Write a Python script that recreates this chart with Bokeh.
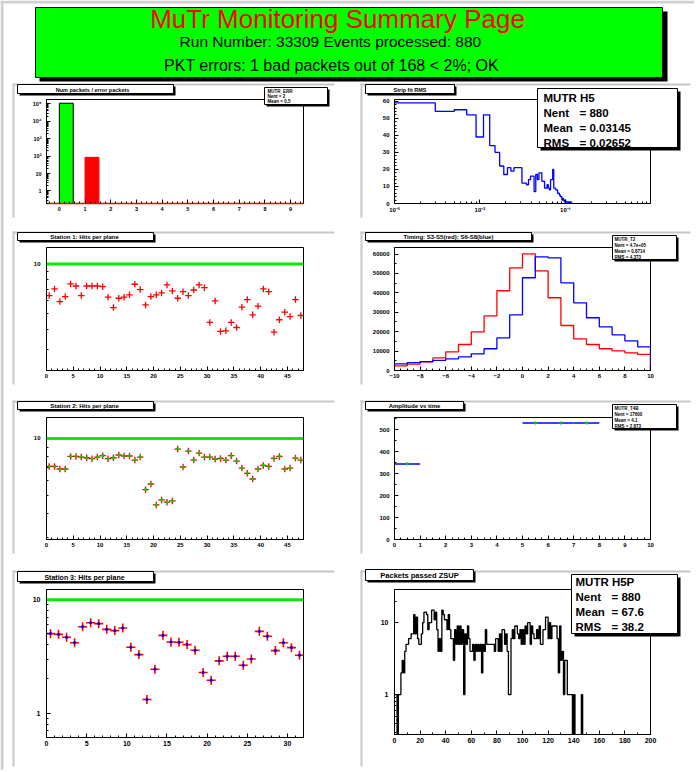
import numpy as np
from bokeh.plotting import figure
from bokeh.models import Range1d, FixedTicker, Span, GridBox
from bokeh.layouts import column, row
from bokeh.embed import file_html
from bokeh.resources import INLINE
from bokeh.core.properties import value

# ---------------- data ----------------
RUN_NUMBER = 33309
EVENTS_PROCESSED = 880
BAD_PACKETS = 1
TOTAL_PACKETS = 168
ERROR_LIMIT = "2%"

# pad 1 : packets / error packets
PKT_CATEGORY = [0, 1]
PKT_COUNT = [110000, 85]
PKT_COLOR = ["#00ff00", "#ff0000"]

# pad 2 : MUTR H5 (bins of width 0.002 starting at 0.001)
H5_FIRST_EDGE = 0.001
H5_BIN_WIDTH = 0.002
H5_COUNTS = [59, 54, 55, 52, 39, 52, 34, 30, 22, 17, 21, 19, 21, 21, 21, 12, 12, 11, 14, 16,
             16, 7, 17, 14, 18, 18, 13, 13, 9, 9, 11, 9, 8, 14, 14, 20, 9, 9, 8, 8,
             6, 6, 5, 4, 4, 2, 3, 2, 1, 2, 1, 1, 0, 1, 0, 1, 0, 1, 0, 0]
H5_MEAN = "0.03145"
H5_RMS = "0.02652"

# pad 4 : timing
TIMING_FIRST_EDGE = -10
TIMING_BIN_WIDTH = 1
TIMING_RED = [2400, 3300, 4500, 6500, 9600, 13400, 19900, 28200, 41100, 52900,
              60100, 51400, 37500, 23200, 16300, 13400, 11200, 10100, 9100, 8300]
TIMING_BLUE = [3400, 4100, 4600, 5200, 6000, 7000, 8600, 11200, 16800, 28700,
               47800, 58600, 58100, 45200, 34900, 27200, 22500, 18400, 15300, 12200]

# station hits per plane
HITS_REFERENCE = 10
ST1_HITS = [6.43, 7.05, 5.91, 6.34, 7.56, 7.35, 6.43, 7.35, 7.35, 7.35, 7.28, 6.28,
            5.43, 6.19, 6.28, 6.49, 7.53, 6.99, 5.64, 6.34, 6.49, 6.67, 7.46, 6.86,
            6.19, 6.79, 6.43, 6.95, 7.46, 7.18, 4.41, 5.96, 3.89, 3.92, 4.41, 4.11,
            5.46, 6.08, 4.91, 5.54, 7.05, 6.79, 3.85, 4.58, 5.09, 4.79, 6.08, 4.86]
ST2_HITS = [7.12, 7.12, 6.90, 6.90, 8.04, 8.04, 7.98, 7.91, 7.82, 7.98, 8.11, 7.82,
            7.91, 8.18, 8.08, 8.08, 7.69, 7.98, 5.37, 5.75, 4.46, 4.74, 4.61, 4.68,
            8.79, 7.07, 8.58, 7.69, 8.37, 7.98, 7.98, 7.79, 7.85, 7.69, 8.11, 7.60,
            6.98, 6.55, 6.11, 6.90, 7.21, 7.12, 7.85, 8.04, 6.90, 6.98, 7.88, 7.69]
ST3_HITS = [5.02, 4.95, 4.66, 4.18, 5.78, 6.27, 6.15, 5.48, 5.34, 5.63, 3.81, 3.28,
            1.32, 2.44, 4.85, 4.24, 4.21, 4.02, 3.58, 2.28, 1.95, 2.89, 3.17, 3.17,
            2.64, 3.00, 5.26, 4.76, 3.56, 4.18, 3.78, 3.24]

# pad 6 : amplitude vs time (bin low edge, mean value)
AMP_BIN = [0, 5, 6, 7]
AMP_VALUE = [344, 530, 530, 530]

# pad 8 : packets passed ZSUP (bins of width 1 from 0)
ZSUP_COUNTS = [1, 1, 0, 1, 1, 2, 3, 2, 4, 5, 5, 6, 6, 7, 7, 13, 7, 12, 6, 5,
               5, 7, 10, 14, 14, 13, 8, 10, 10, 15, 15, 11, 14, 8, 4, 6, 4, 15, 13, 11,
               11, 8, 13, 8, 6, 6, 3, 8, 5, 9, 5, 9, 5, 8, 1, 7, 5, 9, 6, 4,
               4, 5, 3, 5, 4, 5, 4, 5, 2, 5, 4, 8, 5, 5, 5, 5, 5, 5, 4, 6,
               6, 4, 7, 4, 8, 8, 5, 7, 4, 1, 1, 6, 8, 6, 9, 9, 7, 6, 8, 5,
               8, 5, 9, 7, 10, 10, 5, 9, 7, 6, 6, 8, 6, 9, 5, 5, 8, 8, 12, 12,
               6, 10, 6, 9, 9, 9, 9, 6, 2, 9, 3, 4, 1, 3, 3, 1, 1, 1, 1, 0,
               1, 0, 0, 0, 0, 0, 1, 0, 0, 0]
ZSUP_MEAN = "67.6"
ZSUP_RMS = "38.2"

# ---------------- helpers ----------------
FONT = "Liberation Sans"
PAGE_W, PAGE_H = 694, 770


def make_pad(fig_x, fig_y, fig_w, fig_h, frame, x_range, y_range, x_type="linear", y_type="linear"):
    fx0, fy0, fx1, fy1 = frame
    p = figure(frame_width=fx1 - fx0, frame_height=fy1 - fy0,
               min_border_left=fx0 - fig_x, min_border_right=fig_x + fig_w - fx1,
               min_border_top=fy0 - fig_y, min_border_bottom=fig_y + fig_h - fy1,
               x_range=x_range, y_range=y_range,
               x_axis_type=x_type, y_axis_type=y_type,
               toolbar_location=None, output_backend="svg", title=None)
    p.xgrid.visible = False
    p.ygrid.visible = False
    p.outline_line_color = "black"
    p.outline_line_alpha = 1.0
    p.outline_line_width = 1
    p.background_fill_color = "white"
    p.border_fill_color = "white"
    return p


def style_axis(ax, ticks, minor, size="6px", standoff=4, labels=None):
    ax.ticker = FixedTicker(ticks=ticks, minor_ticks=minor)
    ax.axis_line_color = "black"
    ax.major_tick_in = 4
    ax.major_tick_out = 0
    ax.minor_tick_in = 2
    ax.minor_tick_out = 0
    ax.major_tick_line_color = "black"
    ax.minor_tick_line_color = "black"
    ax.major_label_text_font = FONT
    ax.major_label_text_font_style = "bold"
    ax.major_label_text_font_size = size
    ax.major_label_text_color = "black"
    ax.major_label_standoff = standoff
    if labels:
        ax.major_label_overrides = labels


def log_minor(decades, mults=range(2, 10)):
    return [m * 10.0 ** d for d in decades for m in mults]


def stairs(first_edge, width, counts, floor=None, drop=True):
    c = np.asarray(counts, dtype=float)
    edges = first_edge + width * np.arange(len(c) + 1)
    xs = list(np.repeat(edges, 2)[1:-1])
    ys = list(np.repeat(c, 2))
    if drop:
        xs.append(edges[-1])
        ys.append(0.0)
    ys = np.asarray(ys)
    if floor is not None:
        ys = np.maximum(ys, floor)
    return xs, list(ys)


# overlay figure for the canvas decorations (banner, title boxes, statistics boxes, pad borders)
overlay = figure(width=PAGE_W, height=PAGE_H, x_range=Range1d(0, PAGE_W), y_range=Range1d(PAGE_H, 0),
                 toolbar_location=None, output_backend="svg", title=None,
                 x_axis_location=None, y_axis_location=None, min_border=0)
overlay.outline_line_color = None
overlay.background_fill_alpha = 0
overlay.border_fill_alpha = 0
overlay.grid.visible = False


def ov_box(x0, y0, x1, y1, fill, line=None, lw=1.0):
    overlay.quad(left=[x0], right=[x1], top=[y0], bottom=[y1],
                 fill_color=fill, line_color=line if line else fill,
                 line_alpha=1.0 if line else 0.0, line_width=lw)


def ov_text(x, y, txt, size, align="left", bold=True, color="black"):
    overlay.text(x=[x], y=[y], text=[txt], text_font=value(FONT),
                 text_font_size=value(size), text_font_style="bold" if bold else "normal",
                 text_align=align, text_baseline="middle", text_color=color)


def ov_border(x0, y0, x1, y1):
    ov_box(x0, y0, x1, y0 + 2, "#c8c8c8")
    ov_box(x0, y0, x0 + 2, y1, "#c8c8c8")


def ov_title(x0, y0, x1, y1, txt, size, cx=None):
    ov_box(x0 + 2, y0 + 2, x1 + 2, y1 + 2, "black")
    ov_box(x0, y0, x1, y1, "white", "black")
    ov_text(cx if cx else (x0 + x1) / 2, (y0 + y1) / 2 + 0.5, txt, size, "center")


def ov_stats(x0, y0, x1, y1, shadow=2):
    ov_box(x0 + shadow, y0 + shadow, x1 + shadow, y1 + shadow, "black")
    ov_box(x0, y0, x1, y1, "white", "black")


LX, LW = 0, 356
RX, RW = 356, 338
ROWS = [(83, 148), (231, 169), (400, 170), (570, 200)]

# ---------------- banner (drawn on the overlay) ----------------
spacer = figure(width=PAGE_W, height=83, toolbar_location=None, output_backend="svg", title=None,
                x_axis_location=None, y_axis_location=None, min_border=0)
spacer.outline_line_color = None
spacer.grid.visible = False

ov_box(0, 0, PAGE_W, 3, "#d0d0d0")
ov_box(0, 0, 3, PAGE_H, "#d0d0d0")
ov_box(39, 11, 667, 81, "black")
ov_box(35, 7, 662, 77, "#00ff00", "black")
ov_text(337, 18.8, "MuTr Monitoring Summary Page", "26px", "center", False, "#ff0000")
ov_text(332, 41, f"Run Number: {RUN_NUMBER}  Events processed: {EVENTS_PROCESSED}",
        "15.5px", "center", False)
ov_text(331, 65, f"PKT errors: {BAD_PACKETS} bad packets out of {TOTAL_PACKETS} < {ERROR_LIMIT}; OK",
        "16px", "center", False)

# ---------------- pad 1 ----------------
r0, rh = ROWS[0]
p1 = make_pad(LX, r0, LW, rh, (46, 99, 303, 203), Range1d(-0.5, 9.5), Range1d(0.19, 1.8e5), y_type="log")
p1.vbar(x=np.array(PKT_CATEGORY) + 0.27, width=0.54, top=PKT_COUNT, bottom=0.05,
        fill_color=PKT_COLOR, line_color=["black", "#ff0000"], line_width=1)
style_axis(p1.xaxis[0], list(range(0, 10)), [i / 5 for i in range(-2, 48)], "5.5px", 3)
style_axis(p1.yaxis[0], [1, 10, 100, 1000, 10000, 100000], log_minor(range(-1, 6)), "5.5px", 5,
           {1: "1", 10: "10", 100: "10²", 1000: "10³", 10000: "10⁴", 100000: "10⁵"})
p1.xaxis[0].axis_line_color = "#ff0000"
p1.xaxis[0].axis_line_width = 1.5
ov_border(12, 83, 334, 217)
ov_title(17, 84, 173, 93, "Num packets / error packets", "5.5px", 92)
ov_stats(264, 87, 327, 104)
for i, t in enumerate(["MUTR_ERR", f"Nent = {len(PKT_CATEGORY)}", "Mean = 0.5"]):
    ov_text(267, 90.5 + 5 * i, t, "4.5px")

# ---------------- pad 2 ----------------
p2 = make_pad(RX, r0, RW, rh, (394, 99, 650, 203), Range1d(0.001, 0.99), Range1d(0, 61), x_type="log")
xs, ys = stairs(H5_FIRST_EDGE, H5_BIN_WIDTH, H5_COUNTS)
p2.line(xs, ys, line_color="#0000ff", line_width=1.3)
style_axis(p2.xaxis[0], [0.001, 0.01, 0.1], log_minor(range(-3, 0)), "6px", 3,
           {0.001: "10⁻³", 0.01: "10⁻²", 0.1: "10⁻¹"})
style_axis(p2.yaxis[0], list(range(0, 61, 10)), list(range(0, 61, 2)), "6px", 5)
ov_border(360, 83, 690, 217)
ov_title(365, 84, 454, 93, "Strip fit RMS", "5.5px")
ov_stats(537, 88, 677, 147, 3)
for i, (k, v) in enumerate([("MUTR  H5", ""), ("Nent", f"= {EVENTS_PROCESSED}"),
                            ("Mean", f"= {H5_MEAN}"), ("RMS", f"= {H5_RMS}")]):
    ov_text(543, 97 + 15 * i, k, "11.5px")
    if v:
        ov_text(579, 97 + 15 * i, v, "11.5px")


# ---------------- station pads ----------------
def station_pad(fig_x, r0, rh, frame, n, hits, y_range, major, minor, xmaj, center_color,
                msize, mwidth, tick_size, title, title_size, title_y0, title_y1, border_y1):
    p = make_pad(fig_x, r0, LW, rh, frame, Range1d(0, n), y_range, y_type="log")
    p.add_layout(Span(location=HITS_REFERENCE, dimension="width", line_color="#00ee00", line_width=3))
    xc = np.arange(len(hits)) + 0.5
    p.scatter(xc, hits, marker="cross", size=msize, line_color="#ff0000", line_width=mwidth)
    if center_color:
        p.scatter(xc, hits, marker="square", size=1.8, fill_color=center_color,
                  line_color=center_color)
    style_axis(p.xaxis[0], list(range(0, n, xmaj)), list(range(0, n + 1)), tick_size, 3)
    style_axis(p.yaxis[0], major, minor, tick_size, 6, {m: ("10" if m == 10 else "1") for m in major})
    ov_border(12, r0, 334, border_y1)
    ov_title(17, title_y0, 153, title_y1, title, title_size, 84)
    return p


r0, rh = ROWS[1]
p3 = station_pad(LX, r0, rh, (46, 247, 303, 370), 48, ST1_HITS, Range1d(2.25, 12.6),
                 [10], [3, 4, 5, 6, 7, 8, 9], 5, None, 6.5, 1.3, "6px",
                 "Station 1: Hits per plane", "6px", 232, 240, 384)

# ---------------- pad 4 ----------------
p4 = make_pad(RX, r0, RW, rh, (394, 247, 650, 370), Range1d(-10, 10), Range1d(0, 63400))
xs, ys = stairs(TIMING_FIRST_EDGE, TIMING_BIN_WIDTH, TIMING_RED)
p4.line(xs, ys, line_color="#ff0000", line_width=1.3)
xs, ys = stairs(TIMING_FIRST_EDGE, TIMING_BIN_WIDTH, TIMING_BLUE)
p4.line(xs, ys, line_color="#0000ff", line_width=1.3)
style_axis(p4.xaxis[0], list(range(-10, 11, 2)), [i / 2 for i in range(-20, 21)], "6px", 3)
style_axis(p4.yaxis[0], list(range(0, 60001, 10000)), list(range(0, 63001, 5000)), "6px", 5)
ov_border(360, r0, 690, 384)
ov_title(365, 232, 531, 240, "Timing: S3-S5(red); S6-S8(blue)", "6px")
ov_stats(612, 235, 676, 259)
for i, t in enumerate(["MUTR_T2", "Nent = 4.7e+05", "Mean = 0.8714", "RMS = 4.373"]):
    ov_text(614, 238.5 + 6 * i, t, "4.5px")

# ---------------- pad 5 ----------------
r0, rh = ROWS[2]
p5 = station_pad(LX, r0, rh, (46, 417, 303, 539), 48, ST2_HITS, Range1d(2.93, 12.9),
                 [10], [3, 4, 5, 6, 7, 8, 9], 5, "#00cc00", 6.5, 1.3, "6px",
                 "Station 2: Hits per plane", "6px", 401, 409, 553)

# ---------------- pad 6 ----------------
p6 = make_pad(RX, r0, RW, rh, (394, 417, 650, 539), Range1d(0, 10), Range1d(0, 555))
ab = np.array(AMP_BIN, dtype=float)
p6.segment(x0=ab, x1=ab + 1, y0=AMP_VALUE, y1=AMP_VALUE, line_color="#0000ff", line_width=1.5)
p6.scatter(ab + 0.5, AMP_VALUE, marker="square", size=2, fill_color="#00cc00", line_color="#00cc00")
style_axis(p6.xaxis[0], list(range(0, 11)), [i / 4 for i in range(0, 41)], "6px", 3)
style_axis(p6.yaxis[0], list(range(0, 501, 100)), list(range(0, 551, 50)), "6px", 5)
ov_border(360, r0, 690, 553)
ov_title(365, 401, 463, 409, "Amplitude vs time", "6px")
ov_stats(612, 404, 676, 428)
for i, t in enumerate(["MUTR_T4B", "Nent = 17600", "Mean = 4.1", "RMS = 2.873"]):
    ov_text(614, 407.5 + 6 * i, t, "4.5px")

# ---------------- pad 7 ----------------
r0, rh = ROWS[3]
p7 = station_pad(LX, r0, rh, (46, 589, 303, 737), 32, ST3_HITS, Range1d(0.61, 12.3),
                 [1, 10], [0.7, 0.8, 0.9, 2, 3, 4, 5, 6, 7, 8, 9], 5, "#0000ff", 9, 1.6, "7px",
                 "Station 3: Hits per plane", "7px", 571, 581, 766)

# ---------------- pad 8 ----------------
p8 = make_pad(RX, r0, RW, rh, (394, 589, 650, 734), Range1d(0, 200), Range1d(0.278, 29), y_type="log")
xs, ys = stairs(0, 1, ZSUP_COUNTS, floor=0.05)
p8.line(xs, ys, line_color="black", line_width=1.3)
style_axis(p8.xaxis[0], list(range(0, 201, 20)), list(range(0, 201, 10)), "7px", 3)
style_axis(p8.yaxis[0], [1, 10], [0.3, 0.4, 0.5, 0.6, 0.7, 0.8, 0.9, 20], "7px", 6, {1: "1", 10: "10"})
ov_border(360, r0, 690, 766)
ov_title(365, 569, 473, 580, "Packets passed ZSUP", "7.5px")
ov_stats(571, 574, 677, 633, 3)
for i, (k, v) in enumerate([("MUTR  H5P", ""), ("Nent", f"= {EVENTS_PROCESSED}"),
                            ("Mean", f"=  {ZSUP_MEAN}"), ("RMS", f"=   {ZSUP_RMS}")]):
    ov_text(575, 581 + 15 * i, k, "11.5px")
    if v:
        ov_text(611, 581 + 15 * i, v, "11.5px")

pads = column(spacer,
              row(p1, p2),
              row(p3, p4),
              row(p5, p6),
              row(p7, p8))

layout = GridBox(children=[(pads, 0, 0), (overlay, 0, 0)])

open("out.html", "w").write(file_html(layout, INLINE))
